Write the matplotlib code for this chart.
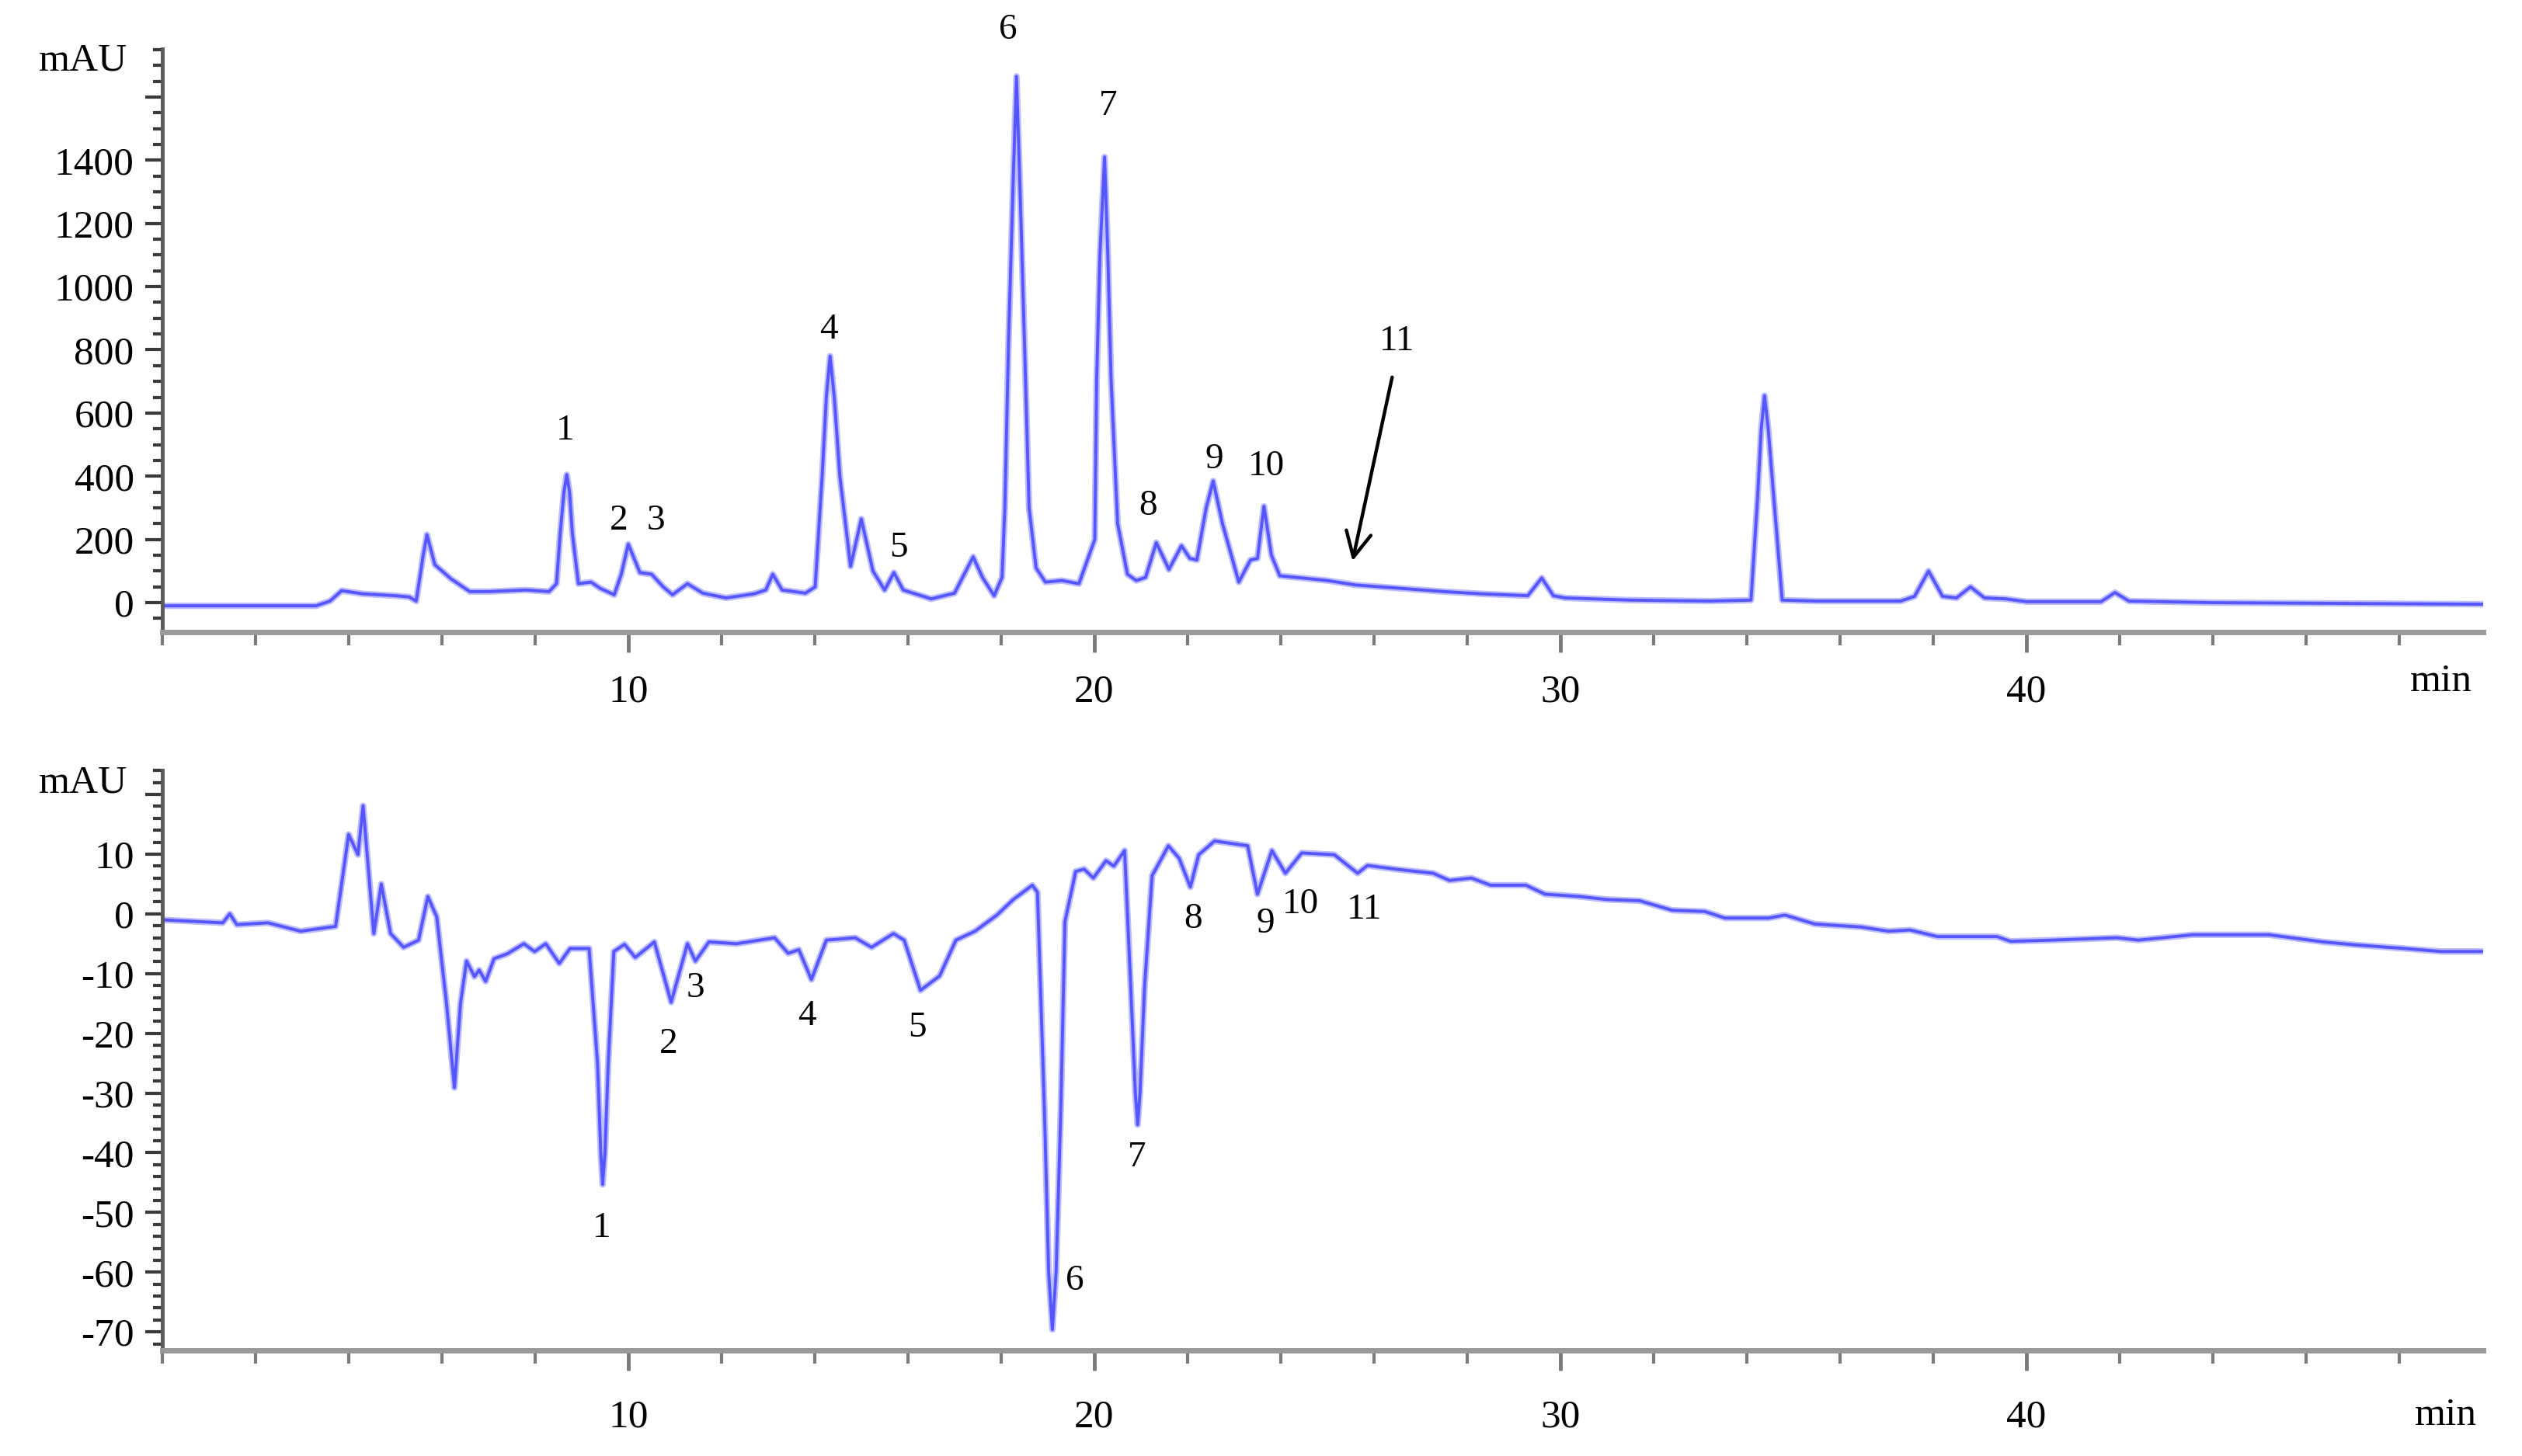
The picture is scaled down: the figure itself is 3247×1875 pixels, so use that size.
import matplotlib
matplotlib.use('Agg')
import matplotlib.pyplot as plt
from matplotlib.ticker import MultipleLocator

plt.rcParams['font.family'] = ['Liberation Serif', 'DejaVu Serif']
plt.rcParams['axes.unicode_minus'] = False

# Upper chromatogram (mAU vs min)
top_t = [0, 3.3, 3.6, 3.85, 4.3, 5.0, 5.3, 5.45, 5.6, 5.68, 5.85, 6.2, 6.6, 7.0, 7.8, 8.3,
         8.46, 8.54, 8.62, 8.68, 8.74, 8.80, 8.93, 9.2, 9.4, 9.7, 9.85, 10.0, 10.25, 10.5,
         10.75, 10.95, 11.27, 11.6, 12.1, 12.7, 12.95, 13.1, 13.3, 13.8, 14.01, 14.16,
         14.25, 14.33, 14.42, 14.54, 14.77, 15.0, 15.25, 15.5, 15.7, 15.9, 16.5, 17.0,
         17.4, 17.6, 17.85, 18.02, 18.08, 18.16, 18.26, 18.33, 18.40, 18.5, 18.6, 18.75,
         18.95, 19.3, 19.67, 19.9, 20.01, 20.05, 20.12, 20.22, 20.29, 20.36, 20.5, 20.71,
         20.9, 21.1, 21.33, 21.6, 21.87, 22.05, 22.2, 22.4, 22.55, 22.75, 23.1, 23.35,
         23.5, 23.64, 23.8, 23.98, 25.0, 25.6, 26.6, 27.5, 28.3, 29.3, 29.6, 29.85, 30.1,
         31.5, 33.2, 34.09, 34.23, 34.31, 34.38, 34.46, 34.58, 34.76, 35.5, 37.3, 37.6,
         37.9, 38.2, 38.5, 38.8, 39.1, 39.55, 40.0, 41.6, 41.9, 42.2, 44.0, 49.8]
top_v = [-10, -10, 5, 38, 28, 22, 18, 5, 150, 215, 120, 75, 35, 35, 40, 35,
         60, 220, 350, 405, 350, 220, 60, 65, 45, 25, 90, 185, 95, 90,
         50, 25, 60, 30, 15, 28, 40, 90, 40, 30, 50, 400,
         650, 780, 650, 400, 115, 265, 100, 40, 95, 40, 12, 30,
         145, 80, 22, 80, 300, 830, 1340, 1665, 1340, 830, 300, 110,
         65, 70, 60, 155, 200, 705, 1100, 1410, 1100, 705, 250, 90,
         70, 80, 190, 105, 180, 140, 135, 300, 385, 250, 65, 135,
         140, 305, 150, 85, 70, 56, 45, 35, 28, 22, 78, 22, 15,
         8, 5, 8, 330, 550, 655, 550, 330, 8, 5, 5, 20,
         100, 20, 15, 50, 15, 12, 3, 3, 32, 5, 0, -5]

# Lower chromatogram
bot_t = [0, 1.3, 1.45, 1.6, 2.27, 2.97, 3.72, 4.0, 4.2, 4.31, 4.54, 4.7, 4.9, 5.18,
         5.5, 5.7, 5.89, 6.1, 6.27, 6.4, 6.53, 6.7, 6.8, 6.94, 7.12, 7.4, 7.76, 7.99,
         8.23, 8.52, 8.75, 9.16, 9.34, 9.41, 9.45, 9.5, 9.57, 9.69, 9.92, 10.15, 10.56,
         10.92, 11.27, 11.44, 11.73, 12.32, 13.14, 13.43, 13.66, 13.93, 14.25, 14.87,
         15.22, 15.69, 15.92, 16.27, 16.68, 17.03, 17.44, 17.91, 18.26, 18.67, 18.78,
         18.93, 19.02, 19.1, 19.18, 19.28, 19.37, 19.6, 19.78, 19.98, 20.25, 20.42,
         20.65, 20.78, 20.88, 20.93, 20.98, 21.08, 21.24, 21.59, 21.82, 22.06, 22.24,
         22.58, 23.29, 23.5, 23.81, 24.1, 24.45, 25.15, 25.65, 25.86, 26.56, 27.27,
         27.62, 28.09, 28.5, 29.26, 29.67, 30.42, 31.0, 31.7, 32.4, 33.1, 33.53, 34.47,
         34.82, 35.46, 36.45, 37.04, 37.5, 38.09, 39.37, 39.66, 40.54, 41.94, 42.4,
         43.57, 45.2, 46.37, 47.07, 48.12, 48.9, 49.8]
bot_v = [-1, -1.5, 0, -1.8, -1.5, -2.9, -2.1, 13.3, 9.9, 18.1, -3.3, 5.0, -3.3, -5.6,
         -4.4, 2.9, -0.5, -15, -29.1, -15, -7.9, -10.5, -9.4, -11.3, -7.5, -6.7, -5.0, -6.3,
         -5.0, -8.3, -5.8, -5.8, -25, -40, -45.3, -40, -25, -6.3, -5.1, -7.3, -4.7,
         -14.8, -5.0, -7.9, -4.7, -5.0, -4.0, -6.6, -6.0, -11.0, -4.4, -4.0,
         -5.6, -3.3, -4.4, -12.8, -10.4, -4.4, -2.9, -0.2, 2.4, 4.8, 3.6,
         -33, -60, -69.6, -60, -33, -1.3, 7.1, 7.5, 6.0, 8.9, 8.0,
         10.6, -12, -30, -35.3, -30, -12, 6.4, 11.4, 9.3, 4.5, 9.9,
         12.2, 11.4, 3.3, 10.6, 6.8, 10.2, 9.9, 6.8, 8.1, 7.4, 6.8,
         5.6, 6.0, 4.8, 4.8, 3.3, 2.9, 2.4, 2.2, 0.6, 0.4, -0.7, -0.7,
         -0.2, -1.7, -2.2, -2.9, -2.7, -3.8, -3.8, -4.6, -4.4, -4.0, -4.4,
         -3.5, -3.5, -4.7, -5.2, -5.8, -6.3, -6.3]

# peak numbers and where they are written
top_labels = ['1', '2', '3', '4', '5', '6', '7', '8', '9', '10']
top_lab_t = [8.65, 9.8, 10.6, 14.3, 15.8, 18.15, 20.3, 21.15, 22.57, 23.7]
top_lab_v = [543, 258, 258, 862, 172, 1811, 1570, 305, 452, 430]

bot_labels = ['1', '2', '3', '4', '5', '6', '7', '8', '9', '10', '11']
bot_lab_t = [9.43, 10.86, 11.44, 13.84, 16.21, 19.58, 20.91, 22.12, 23.67, 24.42, 25.8]
bot_lab_v = [-52.6, -21.8, -12.5, -17.1, -19.1, -61.5, -40.8, -0.95, -1.7, 1.6, 0.6]

top_yticks = [0, 200, 400, 600, 800, 1000, 1200, 1400, 1600]
top_yticklabels = ['0', '200', '400', '600', '800', '1000', '1200', '1400', '']
bot_yticks = [-70, -60, -50, -40, -30, -20, -10, 0, 10, 20]
bot_yticklabels = ['-70', '-60', '-50', '-40', '-30', '-20', '-10', '0', '10', '']
xticks = [10, 20, 30, 40]

line_core = '#5656ff'
line_halo = '#bcbcff'
fs = 37

fig = plt.figure(figsize=(32.48, 18.75), dpi=100)
ax1 = fig.add_axes([0.0643, 0.5659, 0.9200, 0.4005])
ax2 = fig.add_axes([0.0643, 0.0725, 0.9200, 0.3987])


def style(ax, yticks, yticklabels, yminor, xlab_pad):
    for s in ['top', 'right']:
        ax.spines[s].set_visible(False)
    ax.spines['left'].set_color('#5a5a5a')
    ax.spines['left'].set_linewidth(3.5)
    ax.spines['bottom'].set_color('#9a9a9a')
    ax.spines['bottom'].set_linewidth(5)
    ax.set_xlim(0, 49.8)
    ax.set_xticks(xticks)
    ax.set_xticklabels([str(x) for x in xticks])
    ax.xaxis.set_minor_locator(MultipleLocator(2))
    ax.set_yticks(yticks)
    ax.set_yticklabels(yticklabels)
    ax.yaxis.set_minor_locator(MultipleLocator(yminor))
    ax.tick_params(axis='y', which='major', direction='out', length=16, width=3,
                   color='#3a3a3a', labelsize=fs, pad=10)
    ax.tick_params(axis='y', which='minor', direction='out', length=9, width=3,
                   color='#3a3a3a')
    ax.tick_params(axis='x', which='major', direction='out', length=19, width=3.5,
                   color='#7a7a7a', labelsize=fs, pad=xlab_pad)
    ax.tick_params(axis='x', which='minor', direction='out', length=12, width=3,
                   color='#7a7a7a')


# upper panel
ax1.plot(top_t, top_v, color=line_halo, lw=6, solid_joinstyle='round')
ax1.plot(top_t, top_v, color=line_core, lw=2.8, solid_joinstyle='round')
ax1.set_ylim(-93, 1752)
style(ax1, top_yticks, top_yticklabels, 50, 20)
for lab, t, v in zip(top_labels, top_lab_t, top_lab_v):
    ax1.text(t, v, lab, fontsize=34, ha='center', va='center', clip_on=False)
ax1.text(26.5, 827, '11', fontsize=34, ha='center', va='center')
ax1.annotate('', xy=(25.53, 125), xytext=(26.4, 720),
             arrowprops=dict(arrowstyle='->', color='black', lw=3.2, mutation_scale=58))
ax1.text(-0.034, 0.98, 'mAU', transform=ax1.transAxes, fontsize=fs,
         ha='center', va='center')
ax1.text(0.982, -0.085, 'min', transform=ax1.transAxes, fontsize=fs,
         ha='center', va='center')

# lower panel
ax2.plot(bot_t, bot_v, color=line_halo, lw=6, solid_joinstyle='round')
ax2.plot(bot_t, bot_v, color=line_core, lw=2.8, solid_joinstyle='round')
ax2.set_ylim(-73.1, 24.1)
style(ax2, bot_yticks, bot_yticklabels, 2, 26)
for lab, t, v in zip(bot_labels, bot_lab_t, bot_lab_v):
    ax2.text(t, v, lab, fontsize=34, ha='center', va='center')
ax2.text(-0.034, 0.977, 'mAU', transform=ax2.transAxes, fontsize=fs,
         ha='center', va='center')
ax2.text(0.984, -0.112, 'min', transform=ax2.transAxes, fontsize=fs,
         ha='center', va='center')

fig.savefig('out.png', dpi=100)
